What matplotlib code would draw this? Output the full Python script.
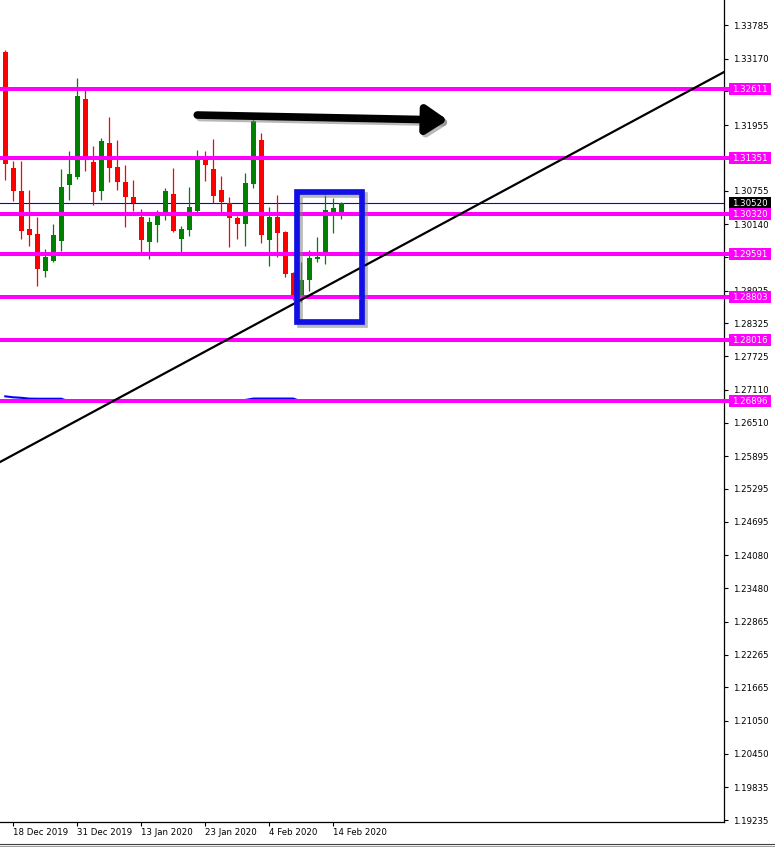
import matplotlib
matplotlib.use('Agg')
import matplotlib.pyplot as plt
import matplotlib.transforms as mtransforms
from matplotlib.patches import Rectangle, FancyArrowPatch
from matplotlib.lines import Line2D
import pandas as pd

plt.rcParams['font.family'] = ['DejaVu Sans']

# ---------------- data ----------------
holidays = [pd.Timestamp('2019-12-25'), pd.Timestamp('2020-01-01')]
dates = [d for d in pd.bdate_range('2019-12-17', '2020-02-17') if d not in holidays]

opens = [1.33291, 1.31168, 1.30747, 1.30052, 1.29960, 1.29289, 1.29472, 1.29838, 1.30863, 1.31009,
         1.32431, 1.31278, 1.30753, 1.31626, 1.31186, 1.30912, 1.30637, 1.30277, 1.29819, 1.30131,
         1.30350, 1.30692, 1.29874, 1.30039, 1.30387, 1.31364, 1.31150, 1.30766, 1.30522, 1.30253,
         1.30149, 1.30881, 1.31681, 1.29856, 1.30271, 1.29997, 1.29247, 1.28813, 1.29119, 1.29503,
         1.29594, 1.30363, 1.30339]
highs = [1.33328, 1.31302, 1.31302, 1.30766, 1.30277, 1.29686, 1.30149, 1.31150, 1.31479, 1.32815,
         1.32632, 1.31571, 1.31717, 1.32101, 1.31681, 1.31223, 1.30949, 1.30418, 1.30277, 1.30400,
         1.30802, 1.31168, 1.30107, 1.30820, 1.31498, 1.31479, 1.31693, 1.31022, 1.30632, 1.30290,
         1.31077, 1.32101, 1.31814, 1.30454, 1.30674, 1.30010, 1.29260, 1.29442, 1.29668, 1.29905,
         1.30674, 1.30619, 1.30540]
lows = [1.30949, 1.30570, 1.29869, 1.29746, 1.29014, 1.29179, 1.29453, 1.29655, 1.30588, 1.30972,
        1.31119, 1.30497, 1.30583, 1.30917, 1.30766, 1.30094, 1.30387, 1.29594, 1.29508, 1.29819,
        1.30217, 1.29997, 1.29594, 1.29924, 1.30326, 1.30936, 1.30533, 1.30368, 1.29728, 1.29863,
        1.29746, 1.30797, 1.29801, 1.29380, 1.29534, 1.29179, 1.28753, 1.28716, 1.28923, 1.29453,
        1.29411, 1.29984, 1.30235]
closes = [1.31241, 1.30753, 1.30021, 1.29947, 1.29325, 1.29534, 1.29942, 1.30820, 1.31058, 1.32486,
          1.31346, 1.30734, 1.31662, 1.31174, 1.30917, 1.30643, 1.30533, 1.29851, 1.30180, 1.30357,
          1.30747, 1.30021, 1.30052, 1.30454, 1.31388, 1.31229, 1.30661, 1.30551, 1.30248, 1.30149,
          1.30894, 1.32028, 1.29947, 1.30277, 1.29973, 1.29234, 1.28826, 1.29119, 1.29521, 1.29534,
          1.30400, 1.30431, 1.30520]

# moving-average style indicator line (mostly hidden behind the lowest level)
ma = [1.26990, 1.26972, 1.26963, 1.26948, 1.26946, 1.26946, 1.26946, 1.26946] + [1.26895] * 22 + \
     [1.26923, 1.26949, 1.26949, 1.26949, 1.26949, 1.26949, 1.26949] + [1.26895] * 6

levels = [1.32611, 1.31351, 1.30320, 1.29591, 1.28803, 1.28016, 1.26896]
level_labels = ['1.32611', '1.31351', '1.30320', '1.29591', '1.28803', '1.28016', '1.26896']
last_price = 1.30520

ytick_vals = [1.33785, 1.33170, 1.32570, 1.31955, 1.31355, 1.30755, 1.30140, 1.29540, 1.28925,
              1.28325, 1.27725, 1.27110, 1.26510, 1.25895, 1.25295, 1.24695, 1.24080, 1.23480,
              1.22865, 1.22265, 1.21665, 1.21050, 1.20450, 1.19835, 1.19235]
ytick_labels = ['%.5f' % v for v in ytick_vals]

xtick_idx = [1, 9, 17, 25, 33, 41]

trend_idx = [0, 86]
trend_price = [1.25840, 1.32622]

arrow_idx = [24.0, 55.3]
arrow_price = [1.32138, 1.32046]

box_idx = [36.5, 44.6]
box_price = [1.28350, 1.30729]

# ---------------- figure ----------------
W, H = 775, 847
fig = plt.figure(figsize=(W / 100, H / 100), dpi=100)
fig.patch.set_facecolor('white')
ax_right_px = 723.5
ax_bottom_px = 822
ax = fig.add_axes([0, (H - ax_bottom_px) / H, ax_right_px / W, ax_bottom_px / H])
ax.set_facecolor('white')

ax.set_xlim(-0.6625, 89.775)
ax.set_ylim(1.19200, 1.34243)

shadow_tr = mtransforms.offset_copy(ax.transData, fig=fig, x=2.5, y=-2.5, units='dots')

# MA line
ax.plot(range(len(ma)), ma, color='#0000ff', lw=1.5, zorder=2, solid_joinstyle='miter')

# blue horizontal price line
ax.axhline(last_price, color='#0000ff', lw=0.8, zorder=2)

# candles
for i in range(len(opens)):
    o, h, l, c = opens[i], highs[i], lows[i], closes[i]
    col = '#008000' if c >= o else '#ff0000'
    ax.vlines(i, l, h, color=col, lw=0.9, zorder=3)
    bot = min(o, c)
    ht = max(abs(c - o), 0.00025)
    ax.bar(i, ht, bottom=bot, width=0.625, color=col, linewidth=0, zorder=3)

# horizontal levels (extend through the tick area to the label boxes)
blend = mtransforms.blended_transform_factory(ax.transAxes, ax.transData)
box_x0 = 729 / ax_right_px
box_x1 = 771 / ax_right_px
box_h = 12 * (1.34243 - 1.19200) / ax_bottom_px

# last price label (black)
ax.add_patch(Rectangle((box_x0, last_price - box_h / 2), box_x1 - box_x0, box_h,
                       transform=blend, facecolor='black', edgecolor='none',
                       clip_on=False, zorder=6))
ax.text((box_x0 + box_x1) / 2, last_price, '%.5f' % last_price, transform=blend,
        ha='center', va='center', color='white', fontsize=6.2, clip_on=False, zorder=7)

for lv, lab in zip(levels, level_labels):
    ax.plot([0, box_x0], [lv, lv], transform=blend, color='#ff00ff', lw=2.9,
            clip_on=False, zorder=4, solid_capstyle='butt')
    ax.add_patch(Rectangle((box_x0, lv - box_h / 2), box_x1 - box_x0, box_h,
                           transform=blend, facecolor='#ff00ff', edgecolor='none',
                           clip_on=False, zorder=6))
    ax.text((box_x0 + box_x1) / 2, lv, lab, transform=blend, ha='center', va='center',
            color='white', fontsize=6.2, clip_on=False, zorder=7)

# trend line
ax.axline((trend_idx[0], trend_price[0]), (trend_idx[1], trend_price[1]),
          color='black', lw=1.6, zorder=5)

# blue rectangle with an outline shadow
for tr, col, al, z in [(shadow_tr, '#808080', 0.55, 4.9), (ax.transData, '#1010e6', 1.0, 5)]:
    r = Rectangle((box_idx[0], box_price[0]), box_idx[1] - box_idx[0], box_price[1] - box_price[0],
                  fill=False, edgecolor=col, alpha=al, lw=4.1, joinstyle='miter',
                  transform=tr, zorder=z)
    ax.add_patch(r)

# black arrow with a shadow
for tr, col, al, z in [(shadow_tr, '#808080', 0.55, 5.9), (ax.transData, 'black', 1.0, 6)]:
    a = FancyArrowPatch((arrow_idx[0], arrow_price[0]), (arrow_idx[1], arrow_price[1]),
                        arrowstyle='-|>,head_length=0.9,head_width=0.6', mutation_scale=14,
                        color=col, alpha=al, lw=5.5, capstyle='round', joinstyle='round',
                        shrinkA=0, shrinkB=0, transform=tr, zorder=z)
    ax.add_patch(a)

# axes styling
for s in ['top', 'left']:
    ax.spines[s].set_visible(False)
for s in ['right', 'bottom']:
    ax.spines[s].set_color('black')
    ax.spines[s].set_linewidth(0.9)

ax.yaxis.tick_right()
ax.set_yticks(ytick_vals)
ax.set_yticklabels(ytick_labels)
ax.tick_params(axis='y', direction='out', length=3, width=0.8, pad=4, labelsize=6.2, colors='black')

ax.set_xticks(xtick_idx)
ax.set_xticklabels([dates[i].strftime('%-d %b %Y') for i in xtick_idx])
ax.tick_params(axis='x', direction='out', length=3, width=0.8, pad=1.5, labelsize=6.2, colors='black')
for lab in ax.get_xticklabels():
    lab.set_ha('left')

# bottom frame lines of the window
fig.add_artist(Line2D([0, 1], [(H - 843.5) / H] * 2, transform=fig.transFigure, color='#404040', lw=0.8))
fig.add_artist(Line2D([0, 1], [(H - 845.5) / H] * 2, transform=fig.transFigure, color='#a0a0a0', lw=0.8))

fig.savefig('out.png', dpi=100, facecolor='white')
